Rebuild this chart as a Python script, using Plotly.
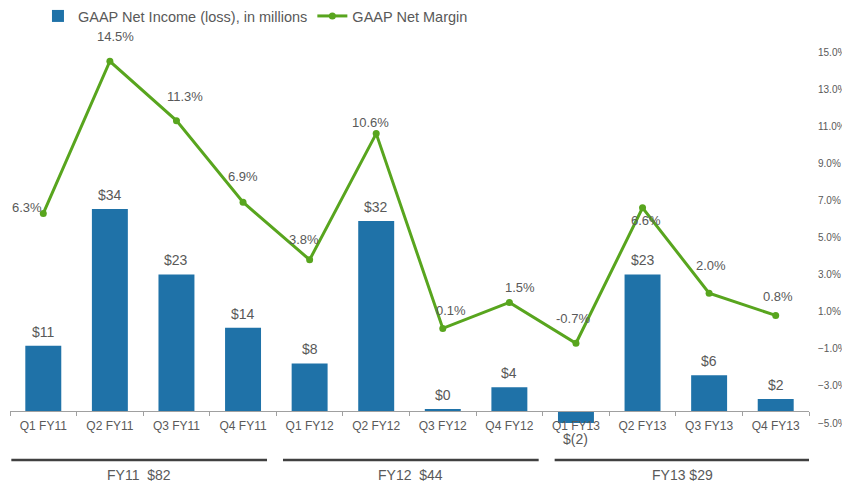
import plotly.graph_objects as go

# data
quarters = ["Q1 FY11", "Q2 FY11", "Q3 FY11", "Q4 FY11",
            "Q1 FY12", "Q2 FY12", "Q3 FY12", "Q4 FY12",
            "Q1 FY13", "Q2 FY13", "Q3 FY13", "Q4 FY13"]
net_income = [11, 34, 23, 14, 8, 32, 0.3, 4, -2, 23, 6, 2]
income_labels = ["$11", "$34", "$23", "$14", "$8", "$32", "$0", "$4", "$(2)", "$23", "$6", "$2"]
net_margin = [6.3, 14.5, 11.3, 6.9, 3.8, 10.6, 0.1, 1.5, -0.7, 6.6, 2.0, 0.8]
years = ["FY11\u00a0 $82", "FY12\u00a0 $44", "FY13 $29"]

# label offsets (px) for the margin labels
margin_dx = [-16, 6, 9, 0, -6, -6, 8, 11, -3, 3, 2, 2]
margin_dy = [6, 25, 24, 26, 20, 11, 18, 15, 25, -13, 28, 19]

blue = "#1f72a8"
green = "#58a51e"
grey = "#595959"
font = "Liberation Sans, Arial, sans-serif"

fig = go.Figure()

fig.add_trace(go.Bar(
    x=quarters, y=net_income,
    name="GAAP Net Income (loss), in millions",
    marker=dict(color=blue, line=dict(width=0)),
    yaxis="y",
))

fig.add_trace(go.Scatter(
    x=quarters, y=net_margin,
    name="GAAP Net Margin",
    mode="lines+markers",
    line=dict(color=green, width=3),
    marker=dict(color=green, size=7),
    yaxis="y2",
))

annotations = []
for q, v, t in zip(quarters, net_income, income_labels):
    annotations.append(dict(
        x=q, y=v, xref="x", yref="y", text=t, showarrow=False,
        yshift=14 if v >= 0 else -16,
        font=dict(size=14, color=grey, family=font),
    ))
for q, v, dx, dy in zip(quarters, net_margin, margin_dx, margin_dy):
    annotations.append(dict(
        x=q, y=v, xref="x", yref="y2", text=f"{v:.1f}%", showarrow=False,
        xshift=dx, yshift=dy,
        font=dict(size=13, color=grey, family=font),
    ))

# fiscal year groups under the axis
shapes = []
for i, label in enumerate(years):
    x0 = -0.48 + 4.08 * i
    x1 = x0 + 3.84
    shapes.append(dict(type="line", xref="x", yref="paper",
                       x0=x0, x1=x1, y0=-0.1, y1=-0.1,
                       line=dict(color="#404040", width=2.5)))
    annotations.append(dict(
        x=(x0 + x1) / 2, y=-0.14, xref="x", yref="paper", text=label,
        showarrow=False, yanchor="middle",
        font=dict(size=14, color=grey, family=font),
    ))

# page body adds 8px, so the figure is 8px smaller than the window
fig.update_layout(
    width=842, height=477,
    margin=dict(l=2, r=41, t=44, b=62, autoexpand=False),
    plot_bgcolor="white", paper_bgcolor="white",
    font=dict(family=font, color=grey),
    bargap=0.46,
    showlegend=True,
    legend=dict(orientation="h", x=0.035, y=1.097, xanchor="left", yanchor="middle",
                font=dict(size=14.5, color=grey, family=font),
                bgcolor="rgba(0,0,0,0)"),
    xaxis=dict(
        type="category", anchor="free", position=12 / 371,
        range=[-0.5, 11.5], autorange=False,
        showline=True, linecolor="#a0a0a0", linewidth=1,
        ticks="outside", tickson="boundaries", ticklen=4, tickcolor="#a0a0a0",
        ticklabelstandoff=4,
        tickfont=dict(size=12, color=grey, family=font),
        showgrid=False, zeroline=False,
    ),
    yaxis=dict(range=[-2.02, 60.44], visible=False, showgrid=False, zeroline=False),
    yaxis2=dict(
        range=[-5, 15], overlaying="y", side="right", anchor="x",
        tick0=-5, dtick=2, tickformat=".1f", ticksuffix="%",
        showgrid=False, zeroline=False, showline=False, ticks="",
        ticklabelstandoff=8,
        tickfont=dict(size=10, color=grey, family=font),
    ),
    annotations=annotations,
    shapes=shapes,
)

fig.write_html("out.html")
